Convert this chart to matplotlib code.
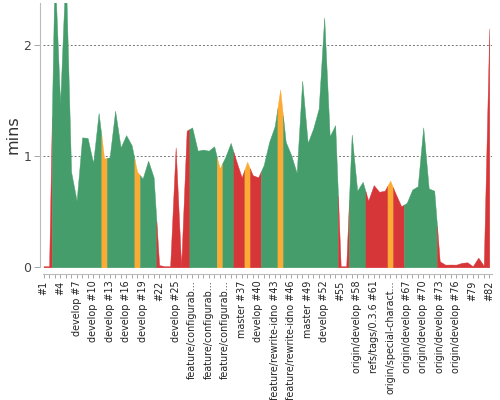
import numpy as np
import matplotlib
matplotlib.use("Agg")
import matplotlib.pyplot as plt

# ===============================
# Build data (minutes per build)
# ===============================
builds = np.arange(1, 83)
durations = [
    0.01, 0.01, 2.70, 1.47, 2.70, 0.86, 0.60, 1.17, 1.165, 0.94,
    1.39, 0.98, 0.99, 1.41, 1.08, 1.19, 1.10, 0.86, 0.80, 0.96,
    0.81, 0.02, 0.01, 0.01, 1.08, 0.01, 1.23, 1.26, 1.05, 1.06,
    1.05, 1.09, 0.89, 0.99, 1.12, 0.96, 0.81, 0.95, 0.83, 0.81,
    0.92, 1.13, 1.27, 1.60, 1.13, 1.01, 0.85, 1.68, 1.12, 1.25,
    1.43, 2.25, 1.18, 1.28, 0.01, 0.01, 1.195, 0.69, 0.77, 0.60,
    0.74, 0.68, 0.69, 0.78, 0.66, 0.55, 0.58, 0.70, 0.73, 1.26,
    0.71, 0.69, 0.054, 0.024, 0.025, 0.024, 0.04, 0.045, 0.01, 0.087,
    0.015, 2.15,
]
# s = success, u = unstable, f = failure
status = (
    "ff" + "s" * 9 + "u" + "s" * 5 + "u" + "sss" + "f" * 6 + "s" * 5 + "u"
    + "ss" + "ff" + "u" + "ff" + "sss" + "u" + "s" * 10 + "ff" + "sss"
    + "ffff" + "u" + "ff" + "s" * 6 + "f" * 10
)
tick_labels = {
    1: "#1", 4: "#4", 7: "develop #7", 10: "develop #10", 13: "develop #13",
    16: "develop #16", 19: "develop #19", 22: "#22", 25: "develop #25",
    28: "feature/configurab...", 31: "feature/configurab...",
    34: "feature/configurab...", 37: "master #37", 40: "develop #40",
    43: "feature/rewrite-idno #43", 46: "feature/rewrite-idno #46",
    49: "master #49", 52: "develop #52", 55: "#55", 58: "origin/develop #58",
    61: "refs/tags/0.3.6 #61", 64: "origin/special-charact...",
    67: "origin/develop #67", 70: "origin/develop #70",
    73: "origin/develop #73", 76: "origin/develop #76", 79: "#79", 82: "#82",
}
colors = {"s": "#459D6B", "u": "#FBAA33", "f": "#D63638"}

values = np.array(durations)

# ===============================
# Plot
# ===============================
fig = plt.figure(figsize=(5, 4), dpi=100)
ax = fig.add_axes([42.5 / 500, 1 - 267.3 / 400, 449.5 / 500, 264.3 / 400])

# spines first: moving them resets tick styling
for side in ["top", "right"]:
    ax.spines[side].set_visible(False)
ax.spines["left"].set_position(("outward", 2))
ax.spines["bottom"].set_position(("outward", 5))
ax.spines["left"].set_color("#BBBBBB")
ax.spines["bottom"].set_color("#BBBBBB")

# fill each run of equal status, split halfway between builds
start = 0
for k in range(1, len(status) + 1):
    if k == len(status) or status[k] != status[start]:
        a, b = builds[start], builds[k - 1]
        xs = np.concatenate(([a - 0.5], builds[start:k], [b + 0.5]))
        xs = np.clip(xs, builds[0], builds[-1])
        ys = np.interp(xs, builds, values)
        c = colors[status[start]]
        ax.fill_between(xs, 0, ys, color=c, edgecolor=c, linewidth=0.3)
        start = k

ax.set_xlim(0.8, 82.5)
ax.set_ylim(0, 2.38)

ax.set_yticks([0, 1, 2])
ax.set_yticklabels(["0", "1", "2"], fontsize=9, color="#444444")
ax.yaxis.grid(True, linestyle=(0, (2, 2)), color="#777777", linewidth=0.7)
ax.set_axisbelow(True)
ax.set_ylabel("mins", fontsize=11.5, color="#333333", labelpad=2)

ax.set_xticks(builds)
ax.set_xticklabels([tick_labels.get(b, "") for b in builds],
                   rotation=90, fontsize=6.9, color="#222222")
ax.tick_params(axis="x", length=3, width=0.6, color="#999999", pad=1.5)
ax.tick_params(axis="y", length=4, width=0.6, color="#999999", pad=2)

fig.savefig("out.png", dpi=100)
